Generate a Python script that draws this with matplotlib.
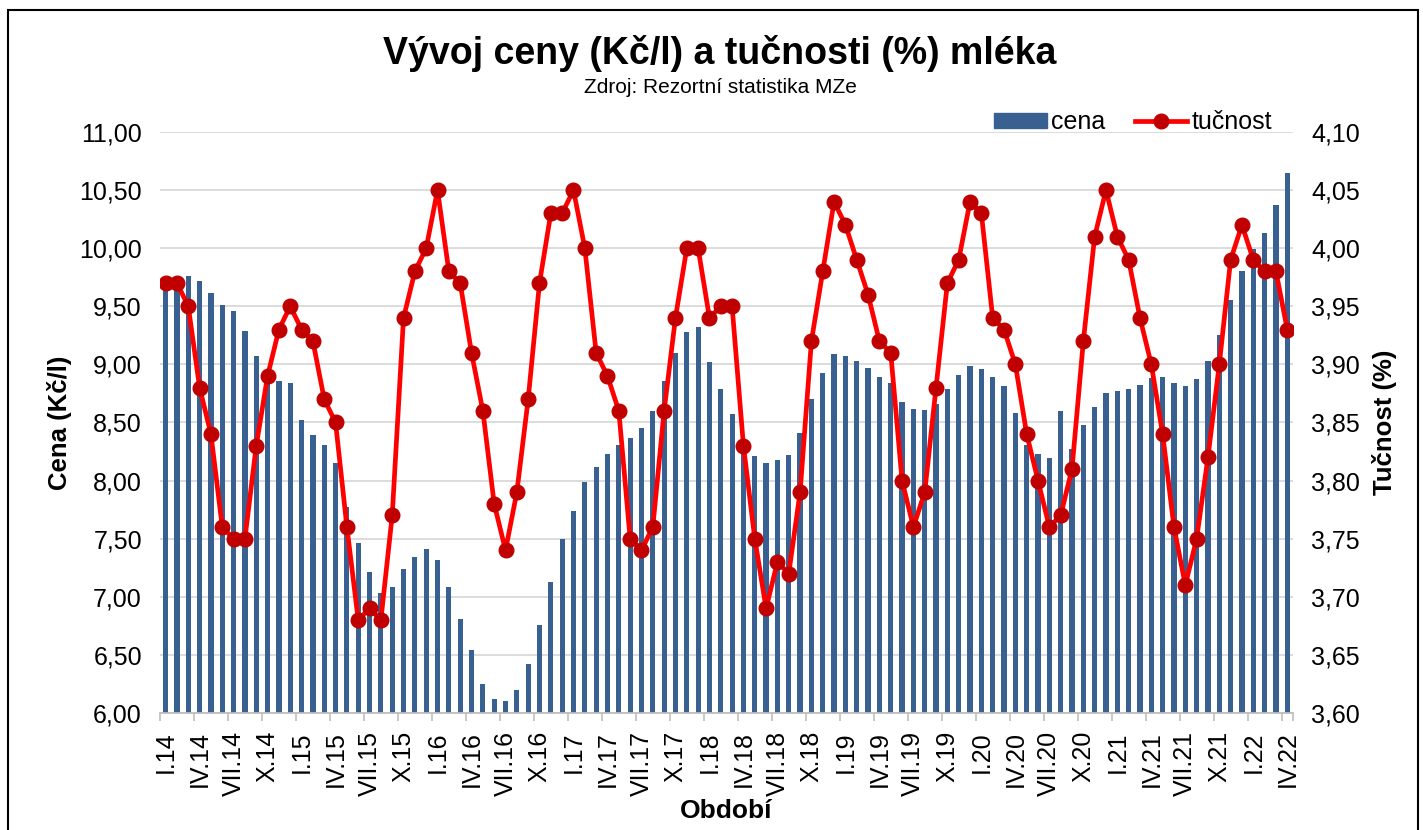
import matplotlib
matplotlib.use("Agg")
import matplotlib.pyplot as plt
from matplotlib.ticker import FuncFormatter, FixedLocator
from matplotlib.patches import Rectangle
from matplotlib.lines import Line2D
import numpy as np

plt.rcParams['font.family'] = ['Liberation Sans', 'DejaVu Sans']

# monthly data I.2014 - IV.2022
months = ['I', 'II', 'III', 'IV', 'V', 'VI', 'VII', 'VIII', 'IX', 'X', 'XI', 'XII']
periods = [f"{m}.{y}" for y in range(14, 23) for m in months][:100]

cena = [9.71, 9.75, 9.76, 9.72, 9.61, 9.51, 9.46, 9.29, 9.07, 8.95, 8.86, 8.84,
        8.52, 8.39, 8.31, 8.15, 7.77, 7.46, 7.21, 7.03, 7.08, 7.24, 7.34, 7.41,
        7.32, 7.08, 6.81, 6.54, 6.25, 6.12, 6.10, 6.20, 6.42, 6.76, 7.13, 7.50,
        7.74, 7.99, 8.12, 8.23, 8.31, 8.37, 8.45, 8.60, 8.86, 9.10, 9.28, 9.32,
        9.02, 8.79, 8.57, 8.36, 8.21, 8.15, 8.18, 8.22, 8.41, 8.70, 8.93, 9.09,
        9.07, 9.03, 8.97, 8.89, 8.84, 8.68, 8.62, 8.61, 8.66, 8.79, 8.91, 8.99,
        8.96, 8.89, 8.81, 8.58, 8.31, 8.23, 8.19, 8.60, 8.27, 8.48, 8.63, 8.75,
        8.77, 8.79, 8.82, 8.88, 8.89, 8.84, 8.81, 8.87, 9.03, 9.25, 9.55, 9.80,
        9.99, 10.13, 10.37, 10.65]

tucnost = [3.97, 3.97, 3.95, 3.88, 3.84, 3.76, 3.75, 3.75, 3.83, 3.89, 3.93, 3.95,
           3.93, 3.92, 3.87, 3.85, 3.76, 3.68, 3.69, 3.68, 3.77, 3.94, 3.98, 4.00,
           4.05, 3.98, 3.97, 3.91, 3.86, 3.78, 3.74, 3.79, 3.87, 3.97, 4.03, 4.03,
           4.05, 4.00, 3.91, 3.89, 3.86, 3.75, 3.74, 3.76, 3.86, 3.94, 4.00, 4.00,
           3.94, 3.95, 3.95, 3.83, 3.75, 3.69, 3.73, 3.72, 3.79, 3.92, 3.98, 4.04,
           4.02, 3.99, 3.96, 3.92, 3.91, 3.80, 3.76, 3.79, 3.88, 3.97, 3.99, 4.04,
           4.03, 3.94, 3.93, 3.90, 3.84, 3.80, 3.76, 3.77, 3.81, 3.92, 4.01, 4.05,
           4.01, 3.99, 3.94, 3.90, 3.84, 3.76, 3.71, 3.75, 3.82, 3.90, 3.99, 4.02,
           3.99, 3.98, 3.98, 3.93]

bar_color = '#386192'
grid_color = '#d9d9d9'
comma = FuncFormatter(lambda v, p: f"{v:.2f}".replace('.', ','))

fig = plt.figure(figsize=(14.23, 8.30), dpi=100)
ax = fig.add_axes([0.1124, 0.141, 0.7962, 0.700])
x = np.arange(len(cena))

ax.bar(x, cena, width=0.46, color=bar_color, zorder=2)
ax.set_ylim(6, 11)
ax.set_xlim(-0.5, len(cena) - 0.5)
ax.set_yticks(np.arange(6, 11.01, 0.5))
ax.yaxis.set_major_formatter(comma)
ax.grid(axis='y', color=grid_color, lw=1.3, zorder=0)
ax.set_axisbelow(True)

ax.set_xticks(x[::3])
ax.set_xticklabels(periods[::3], rotation=90, fontsize=18)
ax.xaxis.set_minor_locator(FixedLocator(list(np.arange(-0.5, len(cena), 3)) + [len(cena) - 0.5]))
ax.tick_params(axis='x', which='major', length=0, pad=13)
ax.tick_params(axis='x', which='minor', length=6, color='#bfbfbf', width=1.2)
ax.tick_params(axis='y', length=0, labelsize=18, pad=13)
for s in ['top', 'left', 'right']:
    ax.spines[s].set_visible(False)
ax.spines['bottom'].set_color('#bfbfbf')
ax.spines['bottom'].set_linewidth(1.3)

ax2 = ax.twinx()
ax2.plot(x, tucnost, color='#ff0000', lw=3.4, marker='o', markersize=10.5,
         markerfacecolor='#c00000', markeredgecolor='#c00000', zorder=3)
ax2.set_ylim(3.6, 4.1)
ax2.set_yticks(np.arange(3.6, 4.101, 0.05))
ax2.yaxis.set_major_formatter(comma)
ax2.tick_params(axis='y', length=0, labelsize=18, pad=13)
for s in ['top', 'left', 'right', 'bottom']:
    ax2.spines[s].set_visible(False)

ax.set_ylabel('Cena (Kč/l)', fontsize=18.5, fontweight='bold', labelpad=5)
ax2.set_ylabel('Tučnost (%)', fontsize=18.5, fontweight='bold', labelpad=9)
ax.set_xlabel('Období', fontsize=19, fontweight='bold', labelpad=2)

fig.text(0.506, 0.936, 'Vývoj ceny (Kč/l) a tučnosti (%) mléka', ha='center', va='center',
         fontsize=27, fontweight='bold')
fig.text(0.506, 0.895, 'Zdroj: Rezortní statistika MZe', ha='center', va='center', fontsize=15)

handles = [Rectangle((0, 0), 1, 1, color=bar_color),
           Line2D([], [], color='#ff0000', lw=3.4, marker='o', markersize=10.5,
                  markerfacecolor='#c00000', markeredgecolor='#c00000')]
fig.legend(handles, ['cena', 'tučnost'], loc='center', bbox_to_anchor=(1133 / 1423, 1 - 122 / 830),
           ncol=2, frameon=False, fontsize=18, handlelength=2.1, handleheight=0.55,
           handletextpad=0.15, columnspacing=1.2, borderpad=0.1)

fig.patches.append(Rectangle((8 / 1423, -0.05), 1410 / 1423, 1.05 - 10 / 830,
                             transform=fig.transFigure, fill=False, edgecolor='black', lw=1.5))

fig.savefig('out.png', dpi=100)
